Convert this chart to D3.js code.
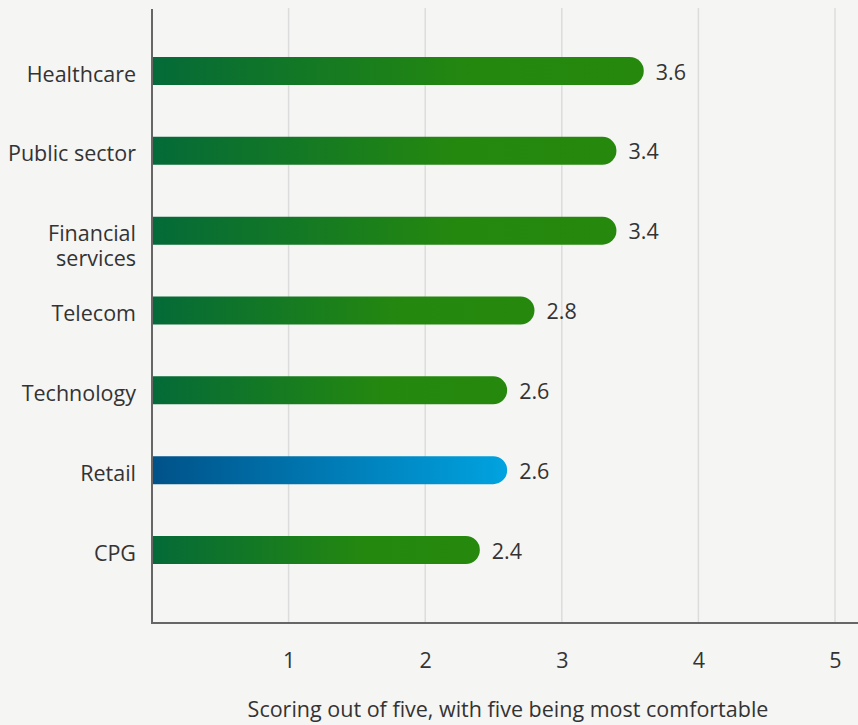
<!DOCTYPE html>
<html>
<head>
<meta charset="utf-8">
<script src="https://cdn.jsdelivr.net/npm/d3@7"></script>
<style>
  body { margin: 0; background: #f5f5f4; }
  svg { display: block; font-family: "Open Sans", sans-serif; }
</style>
</head>
<body>
<svg id="chart" width="858" height="725"></svg>
<script>
// data
let categories = ["Healthcare", "Public sector", "Financial services", "Telecom", "Technology", "Retail", "CPG"];
let scores = [3.6, 3.4, 3.4, 2.8, 2.6, 2.6, 2.4];
let highlight = ["Retail"];
let tickValues = [1, 2, 3, 4, 5];
let axisTitle = "Scoring out of five, with five being most comfortable";

let width = 858, height = 725;
let plotLeft = 152, plotRight = 835, plotTop = 8, plotBottom = 623;
let barH = 28;
let fontSize = 21.5;

let svg = d3.select("#chart");
svg.append("rect").attr("width", width).attr("height", height).attr("fill", "#f5f5f4");

// gradients
let defs = svg.append("defs");
let green = defs.append("linearGradient").attr("id", "gGreen");
green.append("stop").attr("offset", "0%").attr("stop-color", "#046a38");
green.append("stop").attr("offset", "65%").attr("stop-color", "#24880f");
green.append("stop").attr("offset", "100%").attr("stop-color", "#26890d");
let blue = defs.append("linearGradient").attr("id", "gBlue");
blue.append("stop").attr("offset", "0%").attr("stop-color", "#005289");
blue.append("stop").attr("offset", "100%").attr("stop-color", "#00a3e0");

// scales
let x = d3.scaleLinear().domain([0, 5]).range([plotLeft, plotRight]);
let y = d3.scalePoint().domain(categories).range([71, 550]);

// grid lines
svg.append("g")
  .selectAll("line")
  .data(tickValues)
  .enter().append("line")
  .attr("x1", d => x(d)).attr("x2", d => x(d))
  .attr("y1", plotTop).attr("y2", plotBottom)
  .attr("stroke", "#dcdcdc")
  .attr("stroke-width", 1.5);

// x tick labels
let xAxis = svg.append("g")
  .attr("transform", "translate(0," + plotBottom + ")")
  .call(d3.axisBottom(x).tickValues(tickValues).tickFormat(d3.format("d")).tickSize(0).tickPadding(30));
xAxis.select(".domain").remove();
xAxis.selectAll("text")
  .style("font-size", fontSize + "px")
  .style("font-family", "Open Sans, sans-serif")
  .attr("fill", "#333");

// bars: square left end, rounded right end
function barPath(v, cy) {
  let x0 = x(0), x1 = x(v), r = barH / 2, y0 = cy - r;
  return "M" + x0 + "," + y0 +
    "H" + (x1 - r) +
    "A" + r + "," + r + " 0 0 1 " + (x1 - r) + "," + (y0 + barH) +
    "H" + x0 + "Z";
}

let rows = categories.map((c, i) => ({ cat: c, val: scores[i] }));

svg.append("g")
  .selectAll("path")
  .data(rows)
  .enter().append("path")
  .attr("d", d => barPath(d.val, y(d.cat)))
  .attr("fill", d => highlight.includes(d.cat) ? "url(#gBlue)" : "url(#gGreen)");

// value labels
svg.append("g")
  .selectAll("text")
  .data(rows)
  .enter().append("text")
  .attr("x", d => x(d.val) + 12)
  .attr("y", d => y(d.cat) + 1)
  .attr("dy", "0.35em")
  .attr("fill", "#333")
  .style("font-size", fontSize + "px")
  .text(d => d.val.toFixed(1));

// category labels (wrap the long label)
let catLabels = svg.append("g")
  .selectAll("text")
  .data(rows)
  .enter().append("text")
  .attr("x", plotLeft - 16)
  .attr("y", d => y(d.cat) + 3)
  .attr("text-anchor", "end")
  .attr("fill", "#333")
  .style("font-size", fontSize + "px");

catLabels.each(function(d) {
  let t = d3.select(this);
  let parts = d.cat === "Financial services" ? ["Financial", "services"] : [d.cat];
  parts.forEach((p, i) => {
    t.append("tspan")
      .attr("x", plotLeft - 16)
      .attr("dy", i === 0 ? "0.35em" : "25px")
      .text(p);
  });
});

// axis lines
svg.append("line")
  .attr("x1", plotLeft).attr("x2", plotLeft)
  .attr("y1", plotTop + 1).attr("y2", plotBottom + 1)
  .attr("stroke", "#666").attr("stroke-width", 2);
svg.append("line")
  .attr("x1", plotLeft - 1).attr("x2", width)
  .attr("y1", plotBottom).attr("y2", plotBottom)
  .attr("stroke", "#666").attr("stroke-width", 2);

// axis title
svg.append("text")
  .attr("x", 508)
  .attr("y", 717)
  .attr("text-anchor", "middle")
  .attr("fill", "#333")
  .style("font-size", fontSize + "px")
  .text(axisTitle);
</script>
</body>
</html>
